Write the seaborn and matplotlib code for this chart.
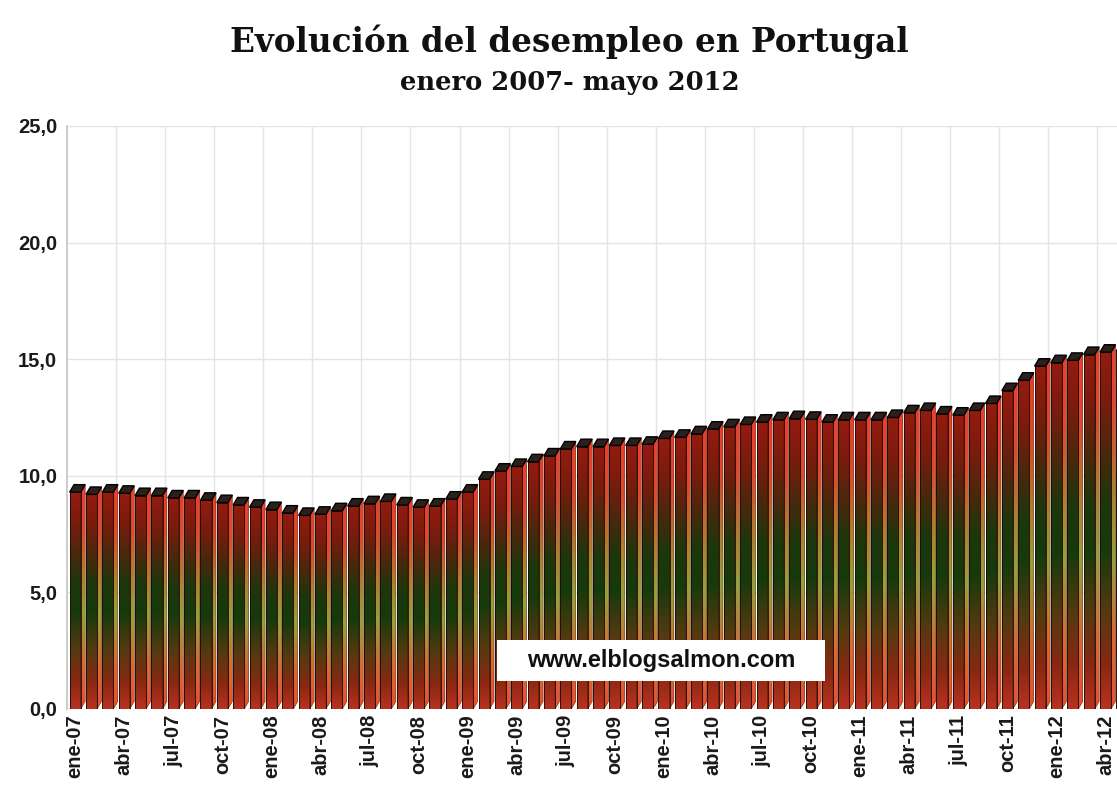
import numpy as np
import pandas as pd
import matplotlib
matplotlib.use("Agg")
import matplotlib.pyplot as plt
import seaborn as sns
from matplotlib.colors import LinearSegmentedColormap
from matplotlib.patches import Polygon, Rectangle
from matplotlib.ticker import FuncFormatter

# categorias: ene-07 ... may-12
meses_abrev = ['ene', 'feb', 'mar', 'abr', 'may', 'jun', 'jul', 'ago', 'sep', 'oct', 'nov', 'dic']
anios = ['07', '08', '09', '10', '11', '12']
meses = [f'{m}-{a}' for a in anios for m in meses_abrev][:65]

# tasa de desempleo (%)
desempleo = [
    9.3, 9.2, 9.3, 9.25, 9.15, 9.15, 9.05, 9.05, 8.95, 8.85, 8.75, 8.65,      # 2007
    8.55, 8.4, 8.3, 8.35, 8.5, 8.7, 8.8, 8.9, 8.75, 8.65, 8.7, 9.0,           # 2008
    9.3, 9.85, 10.2, 10.4, 10.6, 10.85, 11.15, 11.25, 11.25, 11.3, 11.3, 11.35,  # 2009
    11.6, 11.65, 11.8, 12.0, 12.1, 12.2, 12.3, 12.4, 12.45, 12.42, 12.3, 12.4,   # 2010
    12.4, 12.4, 12.5, 12.7, 12.8, 12.65, 12.6, 12.8, 13.1, 13.65, 14.1, 14.7,    # 2011
    14.85, 14.95, 15.2, 15.3, 15.35,                                          # 2012
]

etiquetas = meses[::3]
yticks = [0, 5, 10, 15, 20, 25]

df = pd.DataFrame({'mes': meses, 'valor': desempleo})

sns.set_style('white')
plt.rcParams['font.family'] = ['Liberation Sans', 'DejaVu Sans']

fig = plt.figure(figsize=(11.17, 8.01), dpi=100)
ax = fig.add_axes([0.06, 0.1149, 0.94, 0.7278])

sns.barplot(data=df, x='mes', y='valor', width=0.68, color='#8e1a0e', ax=ax, zorder=2)

front_cmap = LinearSegmentedColormap.from_list('front', [
    (0.0, '#b83220'), (0.12, '#8a2812'), (0.27, '#553a10'), (0.45, '#163a0c'),
    (0.58, '#1c370c'), (0.72, '#4a280c'), (0.86, '#7a1c0d'), (1.0, '#931b0f')])
side_cmap = LinearSegmentedColormap.from_list('side', [
    (0.0, '#e8502f'), (0.2, '#d86a32'), (0.42, '#94a23a'), (0.6, '#b07e2c'),
    (0.8, '#de4a2a'), (1.0, '#ec3e2a')])
grad = np.linspace(0, 1, 256).reshape(-1, 1)

dx, dy = 0.27, 0.32
for p in list(ax.patches):
    x0, w, h = p.get_x(), p.get_width(), p.get_height()
    x1 = x0 + w
    p.set_facecolor('none')
    p.set_edgecolor('#1a0a06')
    p.set_linewidth(0.6)
    im = ax.imshow(grad, cmap=front_cmap, extent=[x0, x1, 0, h], origin='lower',
                   aspect='auto', zorder=2, interpolation='bicubic')
    im.set_clip_path(p)
    p.set_zorder(3)
    side = Polygon([(x1, 0), (x1 + dx, dy), (x1 + dx, h + dy), (x1, h)], closed=True,
                   facecolor='none', edgecolor='#3a0d06', linewidth=0.3, zorder=3)
    ax.add_patch(side)
    ims = ax.imshow(grad, cmap=side_cmap, extent=[x1, x1 + dx, 0, h + dy], origin='lower',
                    aspect='auto', zorder=2, interpolation='bicubic')
    ims.set_clip_path(side)
    cap = Polygon([(x0, h), (x1, h), (x1 + dx, h + dy), (x0 + dx, h + dy)], closed=True,
                  facecolor='#2a211d', edgecolor='#000000', linewidth=1.0, zorder=4)
    ax.add_patch(cap)

ax.set_xlim(-0.5, 63.7)
ax.set_ylim(0, 25)
ax.set_yticks(yticks)
ax.yaxis.set_major_formatter(FuncFormatter(lambda v, _: f'{v:.1f}'.replace('.', ',')))
ax.set_xticks(range(0, len(meses), 3))
ax.set_xticklabels(etiquetas, rotation=90)
ax.set_xticks(np.arange(2.5, len(meses), 3), minor=True)

ax.set_axisbelow(True)
ax.grid(True, axis='y', color='#e4e4e4', linewidth=1)
ax.grid(True, axis='x', which='minor', color='#e4e4e4', linewidth=1)
ax.set_xlabel('')
ax.set_ylabel('')

for s in ['top', 'right', 'bottom']:
    ax.spines[s].set_visible(False)
ax.spines['left'].set_color('#c4c4c4')
ax.spines['left'].set_linewidth(1.2)

ax.tick_params(axis='y', length=6, color='#bdbdbd', pad=1, labelsize=14.5, labelcolor='#1a1a1a')
ax.tick_params(axis='x', which='both', length=0, pad=4, labelsize=14.5, labelcolor='#1a1a1a')
for lab in ax.get_xticklabels() + ax.get_yticklabels():
    lab.set_fontweight('bold')

# marca de agua
ax.add_patch(Rectangle((0.4095, 0.048), 0.312, 0.070, transform=ax.transAxes,
                       facecolor='white', edgecolor='none', zorder=5))
ax.text(0.566, 0.083, 'www.elblogsalmon.com', transform=ax.transAxes, ha='center',
        va='center', fontsize=17, fontweight='bold', color='#111111', zorder=6)

fig.text(0.51, 0.948, 'Evolución del desempleo en Portugal', ha='center', va='center',
         fontsize=23.5, fontweight='bold', family='DejaVu Serif', color='#111111')
fig.text(0.51, 0.897, 'enero 2007- mayo 2012', ha='center', va='center',
         fontsize=18.5, fontweight='bold', family='DejaVu Serif', color='#111111')

fig.savefig('out.png', dpi=100)
